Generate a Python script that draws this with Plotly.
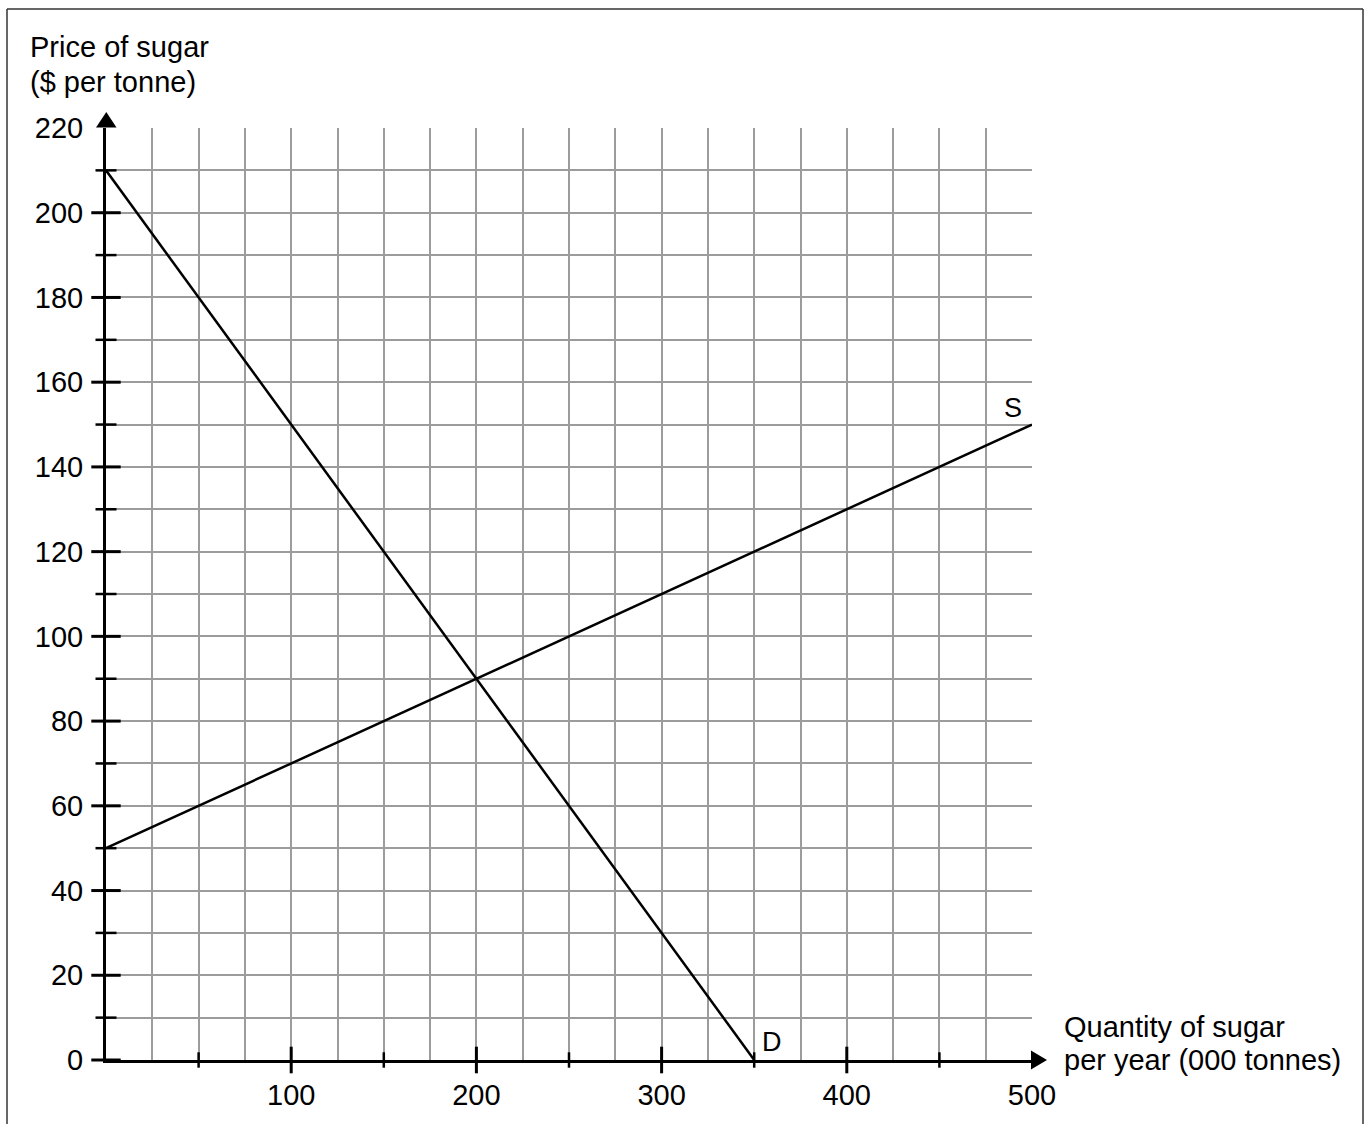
import plotly.graph_objects as go

# ---- data ----
demand_q = [0, 200, 350]
demand_p = [210, 90, 0]
supply_q = [0, 200, 500]
supply_p = [50, 90, 150]

x_label_ticks = [100, 200, 300, 400, 500]
y_label_ticks = [0, 20, 40, 60, 80, 100, 120, 140, 160, 180, 200, 220]
x_major_marks = [100, 200, 300, 400]
x_minor_marks = [50, 150, 250, 350, 450]
y_major_marks = [0, 20, 40, 60, 80, 100, 120, 140, 160, 180, 200]
y_minor_marks = [10, 30, 50, 70, 90, 110, 130, 150, 170, 190, 210]

y_title_lines = ["Price of sugar", "($ per tonne)"]
x_title_lines = ["Quantity of sugar", "per year (000 tonnes)"]

# ---- layout (pixels) ----
FIG_W, FIG_H = 1370, 1124
ML, MR, MT, MB = 106, 338, 128, 64
PW, PH = FIG_W - ML - MR, FIG_H - MT - MB
FONT = "Liberation Sans, Arial, sans-serif"
FS = 29
GRID = "#9c9c9c"


def px(xp):
    return (xp - ML) / PW


def py(yp):
    return (FIG_H - MB - yp) / PH


fig = go.Figure()

# supply & demand
fig.add_trace(go.Scatter(x=demand_q, y=demand_p, mode="lines",
                         line=dict(color="black", width=2.5), hoverinfo="skip"))
fig.add_trace(go.Scatter(x=supply_q, y=supply_p, mode="lines",
                         line=dict(color="black", width=2.5), hoverinfo="skip"))

# axis tick marks crossing the axes
fig.add_trace(go.Scatter(x=[0] * len(y_major_marks), y=y_major_marks, mode="markers",
                         marker=dict(symbol="line-ew", size=21, line=dict(color="black", width=3)),
                         cliponaxis=False, hoverinfo="skip"))
fig.add_trace(go.Scatter(x=[0] * len(y_minor_marks), y=y_minor_marks, mode="markers",
                         marker=dict(symbol="line-ew", size=15, line=dict(color="black", width=2.5)),
                         cliponaxis=False, hoverinfo="skip"))
fig.add_trace(go.Scatter(x=x_major_marks, y=[0] * len(x_major_marks), mode="markers",
                         marker=dict(symbol="line-ns", size=19, line=dict(color="black", width=3)),
                         cliponaxis=False, hoverinfo="skip"))
fig.add_trace(go.Scatter(x=x_minor_marks, y=[0] * len(x_minor_marks), mode="markers",
                         marker=dict(symbol="line-ns", size=11, line=dict(color="black", width=2.5)),
                         cliponaxis=False, hoverinfo="skip"))

# arrowheads
y_arrow = "M {} {} L {} {} L {} {} Z".format(px(96), py(127.5), px(116.5), py(127.5), px(106.3), py(112))
x_arrow = "M {} {} L {} {} L {} {} Z".format(px(1031), py(1050.5), px(1031), py(1069.5), px(1047), py(1060))
shapes = [
    dict(type="path", path=y_arrow, xref="paper", yref="paper", fillcolor="black", line=dict(width=0)),
    dict(type="path", path=x_arrow, xref="paper", yref="paper", fillcolor="black", line=dict(width=0)),
    # outer frame
    dict(type="line", xref="paper", yref="paper", x0=px(7), x1=px(7), y0=py(9), y1=py(1130),
         line=dict(color="#333", width=1.5)),
    dict(type="line", xref="paper", yref="paper", x0=px(7), x1=px(1363), y0=py(9), y1=py(9),
         line=dict(color="#333", width=1.5)),
    dict(type="line", xref="paper", yref="paper", x0=px(1363), x1=px(1363), y0=py(9), y1=py(1130),
         line=dict(color="#333", width=1.5)),
]

annotations = []
for line_text, yc in zip(y_title_lines, [47, 82]):
    annotations.append(dict(text=line_text, xref="paper", yref="paper", x=px(28), y=py(yc),
                            xanchor="left", yanchor="middle", showarrow=False, font=dict(size=FS)))
for line_text, yc in zip(x_title_lines, [1027, 1060]):
    annotations.append(dict(text=line_text, xref="paper", yref="paper", x=px(1062), y=py(yc),
                            xanchor="left", yanchor="middle", showarrow=False, font=dict(size=FS)))
annotations += [
    dict(text="S", x=500, y=150, xref="x", yref="y", xanchor="right", yanchor="bottom",
         xshift=-8, yshift=0, showarrow=False, font=dict(size=FS - 2)),
    dict(text="D", x=350, y=0, xref="x", yref="y", xanchor="left", yanchor="bottom",
         xshift=6, yshift=1, showarrow=False, font=dict(size=FS - 2)),
]

fig.update_layout(
    width=FIG_W, height=FIG_H, autosize=False,
    margin=dict(l=ML, r=MR, t=MT, b=MB, pad=0),
    paper_bgcolor="white", plot_bgcolor="white",
    showlegend=False,
    font=dict(family=FONT, size=FS, color="black"),
    shapes=shapes, annotations=annotations,
    xaxis=dict(range=[0, 500], tickvals=x_label_ticks, ticks="", ticklabelstandoff=7,
               showgrid=True, gridcolor=GRID, gridwidth=2,
               minor=dict(dtick=25, tick0=0, showgrid=True, gridcolor=GRID, gridwidth=2),
               showline=True, linecolor="black", linewidth=3, zeroline=False, fixedrange=True),
    yaxis=dict(range=[0, 220], tickvals=y_label_ticks, ticks="", ticklabelstandoff=14,
               showgrid=True, gridcolor=GRID, gridwidth=2,
               minor=dict(dtick=10, tick0=0, showgrid=True, gridcolor=GRID, gridwidth=2),
               showline=True, linecolor="black", linewidth=3, zeroline=False, fixedrange=True),
)

fig.write_html("out.html", config={"displayModeBar": False},
               post_script="document.body.style.margin='0px';document.body.style.overflow='hidden';")
